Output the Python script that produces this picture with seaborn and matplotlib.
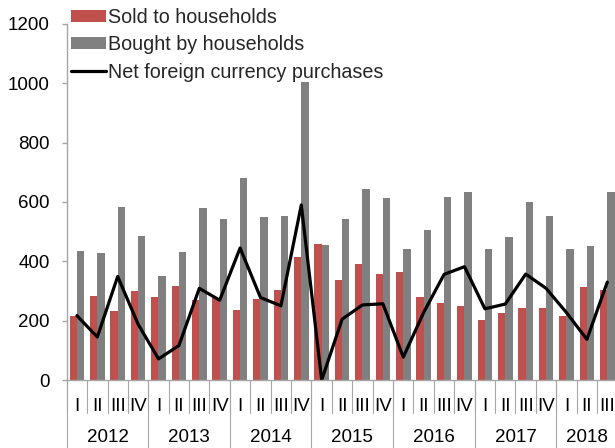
import numpy as np
import pandas as pd
import matplotlib
matplotlib.use("Agg")
import matplotlib.pyplot as plt
import seaborn as sns

years = ["2012", "2013", "2014", "2015", "2016", "2017", "2018"]
quarters_per_year = [4, 4, 4, 4, 4, 4, 3]
roman = ["I", "II", "III", "IV"]

sold = [217, 283, 233, 299,
        280, 317, 270, 275,
        236, 272, 304, 414,
        459, 337, 390, 358,
        364, 279, 261, 251,
        202, 227, 242, 244,
        216, 313, 303]
bought = [434, 428, 582, 487,
          351, 433, 579, 544,
          681, 550, 554, 1004,
          455, 542, 643, 615,
          441, 507, 617, 633,
          442, 483, 599, 553,
          443, 450, 633]
net = [217, 145, 349, 188,
       71, 116, 309, 269,
       445, 278, 250, 590,
       0, 205, 253, 257,
       77, 228, 356, 382,
       240, 256, 357, 309,
       227, 137, 330]

lab_sold = "Sold to households"
lab_bought = "Bought by households"
lab_net = "Net foreign currency purchases"

qkeys, qlabels = [], []
for y, n in zip(years, quarters_per_year):
    for q in range(n):
        qkeys.append(f"{y} {roman[q]}")
        qlabels.append(roman[q])

df = pd.DataFrame({
    "quarter": qkeys * 2,
    "value": sold + bought,
    "series": [lab_sold] * len(sold) + [lab_bought] * len(bought),
})

sns.set_theme(style="white")
plt.rcParams["font.family"] = ["Liberation Sans", "DejaVu Sans"]
FS = 13.5
LFS = 14.2

fig = plt.figure(figsize=(6.15, 4.48), dpi=100)
ax = fig.add_axes([66.7 / 615, 68 / 448, 550.8 / 615, 356 / 448])

sns.barplot(data=df, x="quarter", y="value", hue="series", order=qkeys,
            hue_order=[lab_sold, lab_bought],
            palette={lab_sold: "#C0504D", lab_bought: "#808080"},
            width=0.72, gap=0, saturation=1, edgecolor="none", ax=ax)
xpos = np.arange(len(qkeys))
sns.lineplot(x=xpos, y=net, color="black", linewidth=2.3, label=lab_net, ax=ax)

ax.set_xlim(-0.5, len(qkeys) - 0.5)
ax.set_ylim(0, 1200)
ax.set_yticks(range(0, 1201, 200))
ax.set_xlabel("")
ax.set_ylabel("")

axis_col = "#A6A6A6"
for s in ["top", "right"]:
    ax.spines[s].set_visible(False)
for s in ["left", "bottom"]:
    ax.spines[s].set_color(axis_col)
    ax.spines[s].set_linewidth(1.0)

ax.tick_params(axis="y", which="major", left=True, length=3.6, width=1,
               color=axis_col, labelsize=FS, pad=8.5, labelcolor="black")
ax.set_xticks(xpos)
ax.set_xticklabels(qlabels)
ax.tick_params(axis="x", which="major", bottom=False, length=0,
               labelsize=FS, pad=13, labelcolor="black")

# quarter separators
trans = ax.get_xaxis_transform()
qdepth = -33 / 356
for b in np.arange(-0.5, len(qkeys), 1.0):
    ax.plot([b, b], [0, qdepth], transform=trans, color=axis_col,
            linewidth=0.8, clip_on=False)
# year separators and labels
ydepth = -70 / 356
start = 0
for y, n in zip(years, quarters_per_year):
    ax.plot([start - 0.5, start - 0.5], [0, ydepth], transform=trans,
            color=axis_col, linewidth=0.8, clip_on=False)
    ax.text(start + (n - 1) / 2, -57 / 356, y, transform=trans, ha="center",
            va="center", fontsize=FS, color="black")
    start += n

handles, labels = ax.get_legend_handles_labels()
order = [labels.index(lab_sold), labels.index(lab_bought), labels.index(lab_net)]
leg = ax.legend([handles[i] for i in order], [labels[i] for i in order],
                loc="upper left", bbox_to_anchor=(71 / 615, 1 - 8 / 448),
                bbox_transform=fig.transFigure, frameon=False, fontsize=LFS,
                borderpad=0, borderaxespad=0, handlelength=1.75,
                handleheight=0.55, handletextpad=0.15, labelspacing=0.42)

fig.savefig("out.png", dpi=100)
